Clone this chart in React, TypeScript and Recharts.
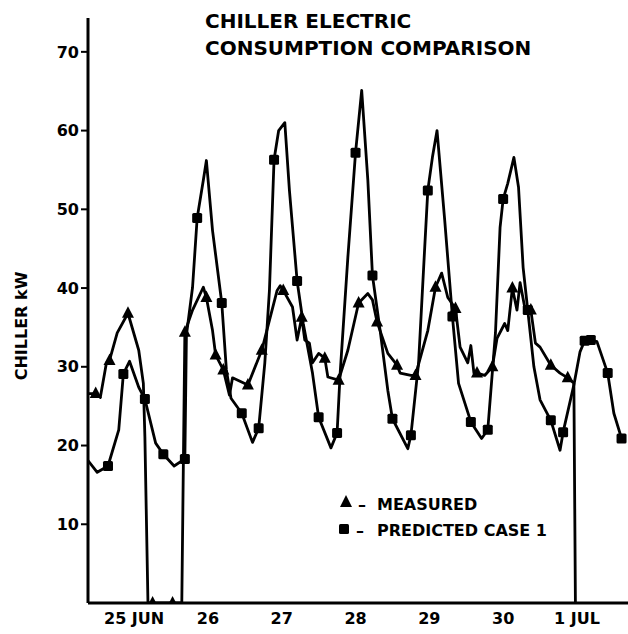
import { LineChart, Line, XAxis, YAxis } from 'recharts'

const FONT = '"DejaVu Sans", sans-serif'

// hours from the "25 JUN" tick; one tick per day
const hourTicks = [0, 24, 48, 72, 96, 120, 144]
const dayLabels = ['25 JUN', '26', '27', '28', '29', '30', '1 JUL']
const kwTicks = [10, 20, 30, 40, 50, 60, 70]

const measuredHours = [
  -15, -12.5, -11, -9, -8, -5.5, -2, 1.5, 3, 3.5, 4.5, 6, 12.5, 15.5, 16.5, 19, 22.5, 23.5,
  25.5, 26.5, 29, 31, 32, 37, 41.5, 44, 46.5, 47.5, 48.5, 51.5, 53, 54.5, 55.5, 57, 58, 60,
  62, 63, 66.5, 69.5, 73, 76, 77.5, 79, 82.5, 85.5, 86.5, 90, 91.5, 95.5, 98, 100, 102,
  104.5, 106, 108.5, 109.5, 110.5, 111.5, 114, 116.5, 118, 120.5, 121.5, 123, 124.5, 125.5,
  127, 129, 130.5, 132, 135.5, 138.5, 141, 143, 143.5,
]
const measuredKw = [
  26.6, 26.6, 26.1, 30.5, 30.8, 34.3, 36.8, 32.1, 27.9, 21.1, 0, 0, 0, 0, 34.4, 37.2, 40.1,
  38.8, 34.6, 31.5, 29.6, 26.4, 28.6, 27.7, 32.1, 35.9, 39.7, 40.3, 39.7, 37.6, 33.4, 36.3,
  33.4, 33.0, 30.5, 31.7, 31.1, 28.7, 28.3, 32.1, 38.1, 39.3, 38.5, 35.7, 31.7, 30.2, 29.2,
  28.9, 28.9, 34.6, 40.1, 41.9, 38.8, 37.4, 32.5, 30.5, 32.7, 29.2, 29.2, 28.9, 30.0, 33.6,
  35.5, 34.6, 40.0, 37.2, 40.7, 37.6, 37.2, 33.0, 32.5, 30.2, 29.2, 28.6, 27.9, 0,
]
const measuredMarks = [1, 4, 6, 11, 12, 14, 17, 19, 20, 23, 24, 28, 31, 36, 38, 40, 43, 45, 48, 50, 53, 58, 60, 64, 68, 71, 73]

const predictedHours = [
  -15, -12, -8.5, -5, -3.5, -1.5, 1.5, 3.5, 7, 9.5, 13, 16.5, 17, 19, 20.5, 22.5, 23.5, 25.5,
  28.5, 30, 31.5, 35, 38.5, 40.5, 42.5, 44, 45.5, 47, 49, 50.5, 53, 55, 58, 60, 64, 66, 67,
  69.5, 72, 74, 76, 77.5, 80, 82.5, 84, 89, 90, 92.5, 94.5, 95.5, 97, 98.5, 101, 103.5,
  105.5, 109.5, 113, 115, 117.5, 119, 120, 121.5, 123.5, 125, 126.5, 128, 130, 132, 135.5,
  138.5, 139.5, 143, 145, 146.5, 148.5, 150.5, 154, 156, 158.5,
]
const predictedKw = [
  18.1, 16.6, 17.4, 22.0, 29.1, 30.7, 27.4, 25.9, 20.3, 18.9, 17.4, 18.3, 34.0, 40.1, 48.9,
  53.7, 56.2, 47.3, 38.1, 29.6, 26.0, 24.1, 20.4, 22.2, 30.5, 39.7, 56.3, 60.0, 61.0, 52.4,
  40.9, 35.5, 29.2, 23.6, 19.7, 21.6, 29.2, 43.9, 57.2, 65.1, 53.7, 41.6, 34.6, 27.0, 23.4,
  19.6, 21.3, 30.5, 45.2, 52.4, 56.6, 60.0, 48.6, 36.4, 27.9, 23.0, 20.9, 22.0, 34.3, 47.7,
  51.3, 53.3, 56.6, 52.8, 42.6, 37.2, 30.0, 25.8, 23.2, 19.4, 21.7, 27.7, 31.9, 33.3, 33.4,
  33.2, 29.2, 24.1, 20.9,
]
const predictedMarks = [2, 4, 7, 9, 11, 14, 18, 21, 23, 26, 30, 33, 35, 38, 41, 44, 46, 49, 53, 55, 57, 60, 65, 68, 70, 73, 74, 76, 78]

const measured = measuredHours.map((h, i) => ({ h, kw: measuredKw[i] }))
const predicted = predictedHours.map((h, i) => ({ h, kw: predictedKw[i] }))

const triangleDot = (props: any) => {
  const { cx, cy, index } = props
  if (!measuredMarks.includes(index)) return <g key={`m${index}`} />
  return (
    <polygon
      key={`m${index}`}
      points={`${cx},${cy - 7} ${cx - 6},${cy + 4.5} ${cx + 6},${cy + 4.5}`}
      fill="#000"
    />
  )
}

const squareDot = (props: any) => {
  const { cx, cy, index } = props
  if (!predictedMarks.includes(index)) return <g key={`p${index}`} />
  return <rect key={`p${index}`} x={cx - 5} y={cy - 5} width={10} height={10} rx={1.5} fill="#000" />
}

const textStyle = { fontFamily: FONT, fontWeight: 700, fontSize: 16, fill: '#000' }

function LegendBox() {
  return (
    <svg width={250} height={52}>
      <polygon points="12,4 6,16 18,16" fill="#000" />
      <text x={24} y={19} {...textStyle}>–</text>
      <text x={43} y={19} {...textStyle}>MEASURED</text>
      <rect x={5} y={33} width={10} height={10} rx={1.5} fill="#000" />
      <text x={22} y={45} {...textStyle}>–</text>
      <text x={43} y={45} {...textStyle}>PREDICTED CASE 1</text>
    </svg>
  )
}

export default function App() {
  return (
    <div style={{ position: 'absolute', left: 0, top: 0, width: 628, height: 634, background: '#fff' }}>
      <div
        style={{
          position: 'absolute',
          left: 205,
          top: 8,
          fontFamily: FONT,
          fontWeight: 700,
          fontSize: 20,
          lineHeight: '27px',
          color: '#000',
          zIndex: 2,
        }}
      >
        <div>CHILLER ELECTRIC</div>
        <div>CONSUMPTION COMPARISON</div>
      </div>
      <div style={{ position: 'absolute', left: 334, top: 491, zIndex: 2 }}>
        <LegendBox />
      </div>
      <LineChart width={628} height={634} margin={{ top: 18, right: 0, bottom: 0, left: 0 }}>
        <XAxis
          dataKey="h"
          type="number"
          domain={[-15, 160.6]}
          ticks={hourTicks}
          tickFormatter={(v: number) => dayLabels[hourTicks.indexOf(v)]}
          tickLine={false}
          tickSize={8}
          axisLine={{ stroke: '#000', strokeWidth: 3 }}
          tick={textStyle}
          height={31}
          allowDataOverflow
        />
        <YAxis
          type="number"
          domain={[0, 74.3]}
          ticks={kwTicks}
          tickSize={7}
          width={88}
          axisLine={{ stroke: '#000', strokeWidth: 3 }}
          tickLine={{ stroke: '#000', strokeWidth: 2 }}
          tick={textStyle}
          allowDataOverflow
          label={{
            content: () => (
              <text
                x={21}
                y={326}
                transform="rotate(-90 21 326)"
                textAnchor="middle"
                dominantBaseline="central"
                {...textStyle}
                fontSize={16}
              >
                CHILLER kW
              </text>
            ),
          }}
        />
        <Line
          data={measured}
          dataKey="kw"
          type="linear"
          stroke="#000"
          strokeWidth={2.8}
          strokeLinejoin="round"
          dot={triangleDot}
          activeDot={false}
          isAnimationActive={false}
        />
        <Line
          data={predicted}
          dataKey="kw"
          type="linear"
          stroke="#000"
          strokeWidth={2.8}
          strokeLinejoin="round"
          dot={squareDot}
          activeDot={false}
          isAnimationActive={false}
        />
      </LineChart>
    </div>
  )
}
